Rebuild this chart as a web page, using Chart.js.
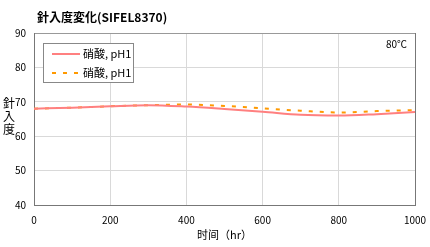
<!DOCTYPE html>
<html>
<head>
<meta charset="utf-8">
<script src="https://cdn.jsdelivr.net/npm/chart.js@4.4.1/dist/chart.umd.min.js"></script>
<style>
  html, body { margin: 0; padding: 0; background: #fff; }
  #wrap { width: 430px; height: 247px; }
</style>
</head>
<body>
<div id="wrap"><canvas id="penChart" width="430" height="247"></canvas></div>
<script>
// data
const hours = [0, 100, 200, 300, 400, 500, 600, 700, 800, 900, 1000];
const seriesA = [68.0, 68.3, 68.7, 69.0, 68.6, 67.9, 67.1, 66.2, 66.0, 66.4, 67.0];
const seriesB = [68.0, 68.3, 68.7, 69.0, 69.2, 68.8, 68.1, 67.4, 66.9, 67.3, 67.6];
const seriesLabels = ['硝酸, pH1', '硝酸, pH1'];
const xTicks = [0, 200, 400, 600, 800, 1000];
const yTicks = [40, 50, 60, 70, 80, 90];

const FONT = '"Noto Sans CJK JP", "Noto Sans", sans-serif';

// title, axis titles, temperature note and the boxed legend
const extras = {
    id: 'extras',
    afterDraw(chart) {
        const c = chart.ctx;
        const area = chart.chartArea;
        c.save();
        c.fillStyle = '#000';
        c.textBaseline = 'middle';

        c.font = 'bold 12px ' + FONT;
        c.textAlign = 'left';
        c.fillText('針入度変化(SIFEL8370)', 37, 17);

        c.font = '10px ' + FONT;
        c.textAlign = 'right';
        c.fillText('80℃', area.right - 8, 44);

        c.font = '11px ' + FONT;
        c.textAlign = 'center';
        c.fillText('时间（hr）', (area.left + area.right) / 2, 235);

        // vertical y title, one char per row
        c.font = '12px ' + FONT;
        ['針', '入', '度'].forEach((ch, i) => c.fillText(ch, 9, 103 + i * 13));

        // legend box
        const bx = 43, by = 43, bw = 90, bh = 39;
        c.fillStyle = '#fff';
        c.fillRect(bx, by, bw, bh);
        c.strokeStyle = '#888';
        c.lineWidth = 1;
        c.strokeRect(bx + 0.5, by + 0.5, bw, bh);
        chart.data.datasets.forEach((ds, i) => {
            const ly = by + 11 + i * 19;
            c.strokeStyle = ds.borderColor;
            c.lineWidth = ds.borderWidth;
            c.setLineDash(ds.borderDash || []);
            c.beginPath();
            c.moveTo(bx + 9, ly);
            c.lineTo(bx + 37, ly);
            c.stroke();
            c.setLineDash([]);
            c.fillStyle = '#000';
            c.font = '11px ' + FONT;
            c.textAlign = 'left';
            c.fillText(ds.label, bx + 40, ly);
        });
        c.restore();
    }
};

const ctx = document.getElementById('penChart').getContext('2d');
new Chart(ctx, {
    type: 'line',
    data: {
        datasets: [{
            label: seriesLabels[0],
            data: hours.map((h, i) => ({ x: h, y: seriesA[i] })),
            borderColor: '#ff8080',
            borderWidth: 2,
            pointRadius: 0,
            cubicInterpolationMode: 'monotone'
        }, {
            label: seriesLabels[1],
            data: hours.map((h, i) => ({ x: h, y: seriesB[i] })),
            borderColor: '#ff9900',
            borderWidth: 2,
            borderDash: [4, 7],
            pointRadius: 0,
            cubicInterpolationMode: 'monotone'
        }]
    },
    options: {
        responsive: false,
        animation: false,
        layout: { padding: { top: 33, left: 0, right: 15, bottom: 0 } },
        plugins: {
            legend: { display: false },
            title: { display: false },
            tooltip: { enabled: false }
        },
        scales: {
            x: {
                type: 'linear',
                min: 0,
                max: 1000,
                afterFit: s => { s.height = 42; s.paddingRight = 0; },
                afterBuildTicks: s => { s.ticks = xTicks.map(v => ({ value: v })); },
                grid: {
                    drawTicks: false,
                    color: c => (c.tick && c.tick.value === 1000 ? '#777' : '#d9d9d9'),
                    lineWidth: 1
                },
                border: { color: '#777', width: 1 },
                ticks: {
                    padding: 9, color: '#000', maxRotation: 0,
                    font: { size: 10, family: FONT },
                    callback: v => String(v)
                }
            },
            y: {
                min: 40,
                max: 90,
                afterFit: s => { s.width = 34; },
                afterBuildTicks: s => { s.ticks = yTicks.map(v => ({ value: v })); },
                grid: {
                    drawTicks: false,
                    color: c => (c.tick && c.tick.value === 90 ? '#999' : '#d9d9d9'),
                    lineWidth: 1
                },
                border: { color: '#777', width: 1 },
                ticks: { padding: 8, color: '#000', font: { size: 10, family: FONT } }
            }
        }
    },
    plugins: [extras]
});
</script>
</body>
</html>
